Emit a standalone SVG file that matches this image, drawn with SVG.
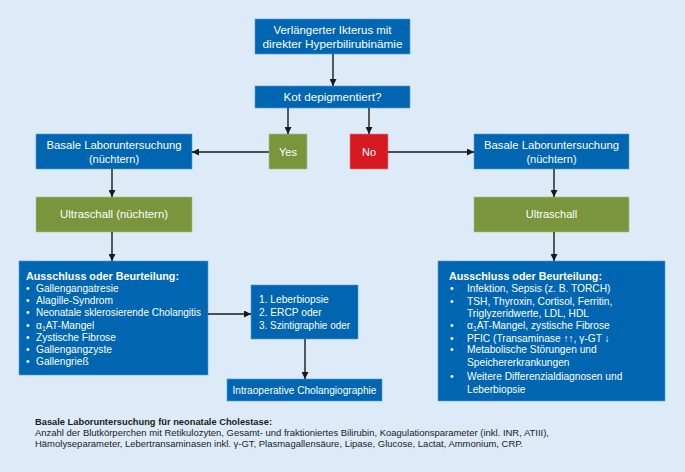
<svg xmlns="http://www.w3.org/2000/svg" width="685" height="472" viewBox="0 0 685 472">
<defs>
<marker id="ah" viewBox="0 0 10 10" refX="10" refY="5" markerWidth="7" markerHeight="7" markerUnits="userSpaceOnUse" orient="auto">
<path d="M0,0 L10,5 L0,10 z" fill="#1a1a1a"/>
</marker>
<style>
.blue{fill:#0066b1;stroke:#5b9bd5;stroke-width:0.6}
.green{fill:#7a953c;stroke:#a9c08a;stroke-width:0.6}
.red{fill:#d71a21;stroke:#e87c80;stroke-width:0.6}
.t{font-family:"Liberation Sans",Arial,sans-serif;font-size:11px;fill:#ffffff}
.l{font-family:"Liberation Sans",Arial,sans-serif;font-size:10.2px;fill:#ffffff}
.c{text-anchor:middle}
.b{font-weight:bold;font-size:11.5px}
.con line{stroke:#1a1a1a;stroke-width:1.4;marker-end:url(#ah)}
.fn{font-family:"Liberation Sans",Arial,sans-serif;font-size:9.5px;fill:#1a1a1a}
.sub{font-size:7px}
</style>
</defs>
<rect width="685" height="472" fill="#ddebf8"/>
<g id="n-start"><rect class="blue" x="255" y="19" width="155" height="35"/>
<text class="t c" x="332.5" y="34" textLength="118" lengthAdjust="spacingAndGlyphs">Verlängerter Ikterus mit</text>
<text class="t c" x="332.5" y="48" textLength="140" lengthAdjust="spacingAndGlyphs">direkter Hyperbilirubinämie</text></g>
<g id="n-kot"><rect class="blue" x="255" y="86" width="155" height="22"/>
<text class="t c" x="332.5" y="101" textLength="98" lengthAdjust="spacingAndGlyphs">Kot depigmentiert?</text></g>
<g id="n-yes"><rect class="green" x="269" y="134" width="38" height="35"/>
<text class="t c" x="288" y="156">Yes</text></g>
<g id="n-no"><rect class="red" x="350" y="134" width="38" height="35"/>
<text class="t c" x="369" y="156">No</text></g>
<g id="n-lab-l"><rect class="blue" x="36" y="134" width="156" height="35"/>
<text class="t c" x="114" y="149" textLength="135" lengthAdjust="spacingAndGlyphs">Basale Laboruntersuchung</text>
<text class="t c" x="114" y="163">(nüchtern)</text></g>
<g id="n-lab-r"><rect class="blue" x="474" y="134" width="155" height="35"/>
<text class="t c" x="551.5" y="149" textLength="135" lengthAdjust="spacingAndGlyphs">Basale Laboruntersuchung</text>
<text class="t c" x="551.5" y="163">(nüchtern)</text></g>
<g id="n-us-l"><rect class="green" x="36" y="197" width="156" height="35"/>
<text class="t c" x="114" y="218" textLength="108" lengthAdjust="spacingAndGlyphs">Ultraschall (nüchtern)</text></g>
<g id="n-us-r"><rect class="green" x="474" y="197" width="155" height="35"/>
<text class="t c" x="551.5" y="218">Ultraschall</text></g>
<g id="n-aus-l"><rect class="blue" x="19" y="261" width="189" height="114"/>
<text class="t b" x="26" y="280" textLength="153" lengthAdjust="spacingAndGlyphs">Ausschluss oder Beurteilung:</text>
<g class="l">
<text x="26" y="292">•</text><text x="36" y="292">Gallengangatresie</text>
<text x="26" y="304">•</text><text x="36" y="304">Alagille-Syndrom</text>
<text x="26" y="316">•</text><text x="36" y="316" textLength="165" lengthAdjust="spacingAndGlyphs">Neonatale sklerosierende Cholangitis</text>
<text x="26" y="329">•</text><text x="36" y="329">α<tspan class="sub" dy="2">1</tspan><tspan dy="-2">AT-Mangel</tspan></text>
<text x="26" y="341">•</text><text x="36" y="341">Zystische Fibrose</text>
<text x="26" y="353">•</text><text x="36" y="353">Gallengangzyste</text>
<text x="26" y="365">•</text><text x="36" y="365">Gallengrieß</text>
</g></g>
<g id="n-leber"><rect class="blue" x="251" y="285" width="107" height="54"/>
<g class="l">
<text x="259" y="303">1. Leberbiopsie</text>
<text x="259" y="316">2. ERCP oder</text>
<text x="259" y="329" textLength="91" lengthAdjust="spacingAndGlyphs">3. Szintigraphie oder</text>
</g></g>
<g id="n-intra"><rect class="blue" x="227" y="379" width="155" height="22"/>
<text class="t c" x="304.5" y="394" textLength="144" lengthAdjust="spacingAndGlyphs">Intraoperative Cholangiographie</text></g>
<g id="n-aus-r"><rect class="blue" x="438" y="261" width="227" height="140"/>
<text class="t b" x="449" y="280" textLength="153" lengthAdjust="spacingAndGlyphs">Ausschluss oder Beurteilung:</text>
<g class="l">
<text x="450" y="292">•</text><text x="467" y="292">Infektion, Sepsis (z. B. TORCH)</text>
<text x="450" y="305">•</text><text x="467" y="305">TSH, Thyroxin, Cortisol, Ferritin,</text>
<text x="467" y="317">Triglyzeridwerte, LDL, HDL</text>
<text x="450" y="329">•</text><text x="467" y="329">α<tspan class="sub" dy="2">1</tspan><tspan dy="-2">AT-Mangel, zystische Fibrose</tspan></text>
<text x="450" y="342">•</text><text x="467" y="342">PFIC (Transaminase ↑↑, γ-GT ↓</text>
<text x="450" y="353">•</text><text x="467" y="353">Metabolische Störungen und</text>
<text x="467" y="366">Speichererkrankungen</text>
<text x="450" y="380">•</text><text x="467" y="380">Weitere Differenzialdiagnosen und</text>
<text x="467" y="393">Leberbiopsie</text>
</g></g>
<g id="connectors" class="con">
<line x1="333" y1="54" x2="333" y2="86"/>
<line x1="288" y1="108" x2="288" y2="134"/>
<line x1="369" y1="108" x2="369" y2="134"/>
<line x1="269" y1="152" x2="192" y2="152"/>
<line x1="388" y1="152" x2="474" y2="152"/>
<line x1="112" y1="169" x2="112" y2="197"/>
<line x1="554" y1="169" x2="554" y2="197"/>
<line x1="112" y1="232" x2="112" y2="261"/>
<line x1="554" y1="232" x2="554" y2="261"/>
<line x1="208" y1="314" x2="251" y2="314"/>
<line x1="305" y1="339" x2="305" y2="379"/>
</g>
<g id="footnote">
<text class="fn" x="35" y="425" font-weight="bold" textLength="237" lengthAdjust="spacingAndGlyphs">Basale Laboruntersuchung für neonatale Cholestase:</text>
<text class="fn" x="35" y="436" textLength="514" lengthAdjust="spacingAndGlyphs">Anzahl der Blutkörperchen mit Retikulozyten, Gesamt- und fraktioniertes Bilirubin, Koagulationsparameter (inkl. INR, ATIII),</text>
<text class="fn" x="35" y="447" textLength="488" lengthAdjust="spacingAndGlyphs">Hämolyseparameter, Lebertransaminasen inkl.  γ-GT, Plasmagallensäure, Lipase, Glucose, Lactat, Ammonium, CRP.</text>
</g>
</svg>
